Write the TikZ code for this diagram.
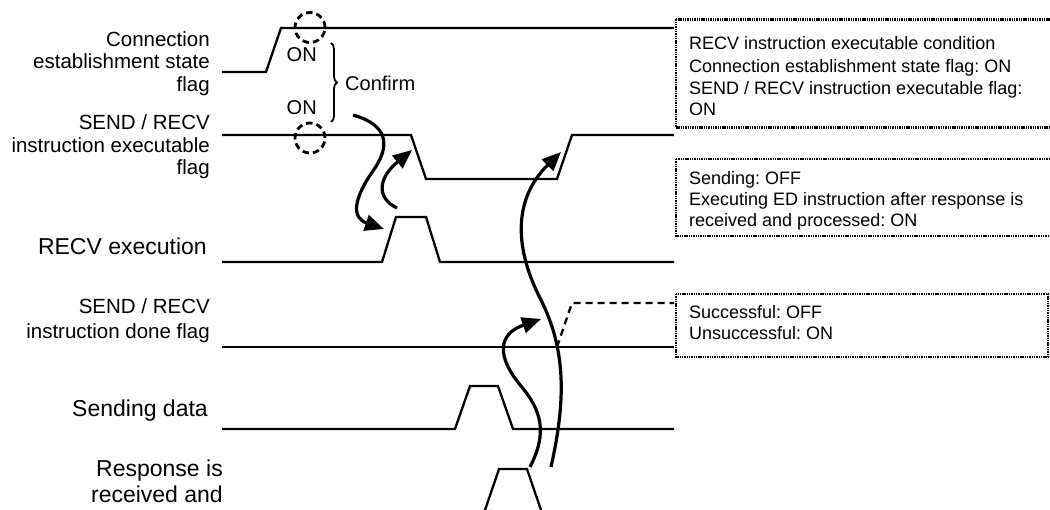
\documentclass[tikz,border=0pt]{standalone}
\usepackage{fontspec}
\setmainfont{Liberation Sans}
\usetikzlibrary{arrows.meta,decorations.pathreplacing}
\frenchspacing
\begin{document}
\begin{tikzpicture}[x=1pt,y=-1pt,
  wave/.style={line width=2.3pt, line join=miter},
  dwave/.style={wave, dash pattern=on 7pt off 5pt},
  flow/.style={line width=3.2pt, -{Triangle[length=19pt,width=16pt]}},
  ring/.style={draw, line width=2.8pt, dash pattern=on 6.5pt off 4pt},
  note/.style={draw, line width=2.4pt, dash pattern=on 1.4pt off 0.9pt},
  lbl/.style={font=\fontsize{20.5}{22}\selectfont, inner sep=0pt, anchor=base east},
  big/.style={font=\fontsize{23}{25}\selectfont, inner sep=0pt, anchor=base east},
  txt/.style={font=\fontsize{18}{21}\selectfont, inner sep=0pt, anchor=base west},
  small/.style={font=\fontsize{20}{22}\selectfont, inner sep=0pt, anchor=base west}]
\clip (0,0) rectangle (1050,510);

% left labels
\node[lbl] (c1) at (210,46.5) {Connection};
\node[lbl] (c2) at (210,69) {establishment state};
\node[lbl] (c3) at (210,91.5) {flag};
\node[lbl] (e1) at (210,130) {SEND / RECV};
\node[lbl] (e2) at (210,152.5) {instruction executable};
\node[lbl] (e3) at (210,175) {flag};
\node[big] (r1) at (207,255) {RECV execution};
\node[lbl] (d1) at (210,313.3) {SEND / RECV};
\node[lbl] (d2) at (210,338.3) {instruction done flag};
\node[big] (s1) at (208,416.7) {Sending data};
\node[big] (p1) at (223,476.7) {Response is};
\node[big] (p2) at (223,503) {received and};

% waveforms
\draw[wave] (222,72) -- (266,72) -- (281,28) -- (674,28);
\draw[wave] (222,135) -- (411,135) -- (426,179) -- (557,179) -- (572,135) -- (674,135);
\draw[wave] (222,262) -- (382,262) -- (396,217) -- (426,217) -- (440,262) -- (674,262);
\draw[wave] (222,347) -- (674,347);
\draw[dwave] (557,347) -- (572,303) -- (674,303);
\draw[wave] (222,429) -- (455,429) -- (470,386) -- (498,386) -- (513,429) -- (674,429);
\draw[wave] (484,513) -- (499,469) -- (527,469) -- (542,513);

% dashed rings, ON labels, brace
\node[ring, circle, minimum size=30pt, inner sep=0pt] (ring1) at (310,27.5) {};
\node[ring, circle, minimum size=30pt, inner sep=0pt] (ring2) at (310,138) {};
\node[small] (on1) at (286.5,61.7) {ON};
\node[small] (on2) at (286.5,115) {ON};
\coordinate (bt) at (331,43);
\coordinate (bb) at (331,122);
\draw[line width=1.8pt, decorate, decoration={brace, amplitude=6pt}] (bt) -- (bb);
\node[small] (conf) at (345,90.7) {Confirm};

% flow arrows
\coordinate (a1s) at (353,115);
\coordinate (a1m) at (375,168);
\coordinate (a1e) at (384,229);
\draw[flow] (a1s) .. controls (388,125) and (390,145) .. (a1m) .. controls (352,200) and (352,218) .. (a1e);
\coordinate (a2s) at (397,208);
\coordinate (a2e) at (412,150);
\draw[flow] (a2s) .. controls (376,198) and (378,178) .. (a2e);
\coordinate (a3s) at (551,467);
\coordinate (a3m) at (541,300);
\coordinate (a3e) at (561,152);
\draw[flow] (a3s) .. controls (566,400) and (566,350) .. (a3m) .. controls (515,250) and (512,200) .. (a3e);
\coordinate (a4s) at (530,467);
\coordinate (a4m) at (521,386);
\coordinate (a4e) at (541,319);
\draw[flow] (a4s) .. controls (548,432) and (541,410) .. (a4m) .. controls (496,356) and (498,334) .. (a4e);

% notes
\draw[note] (676,19.5) rectangle (1070,127.5);
\node[txt] (n11) at (689,50) {RECV instruction executable condition};
\node[txt] (n12) at (689,72.3) {Connection establishment state flag: ON};
\node[txt] (n13) at (689,94.5) {SEND / RECV instruction executable flag:};
\node[txt] (n14) at (689,116) {ON};
\draw[note] (676,159) rectangle (1070,236);
\node[txt] (n21) at (689,185) {Sending: OFF};
\node[txt] (n22) at (689,206) {Executing ED instruction after response is};
\node[txt] (n23) at (689,227) {received and processed: ON};
\draw[note] (676,294) rectangle (1048,357);
\node[txt] (n31) at (689,319) {Successful: OFF};
\node[txt] (n32) at (689,340) {Unsuccessful: ON};
\end{tikzpicture}
\end{document}
